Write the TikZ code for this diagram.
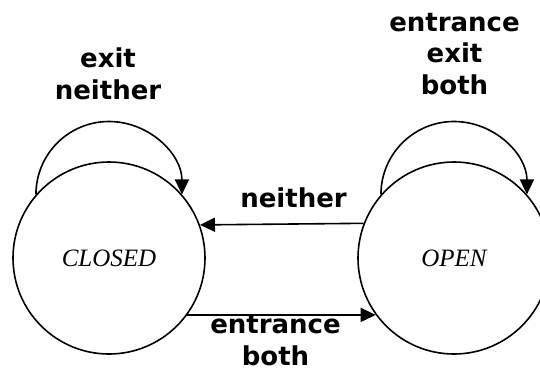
\documentclass[tikz,border=0pt]{standalone}
\usepackage{fontspec}
\setmainfont{Liberation Serif}
\newfontfamily\lblfont{DejaVu Sans}
\usetikzlibrary{arrows.meta}
\tikzset{
  state/.style={circle, draw, line width=1.6bp, minimum size=192bp, inner sep=0pt,
    font=\fontsize{25bp}{30bp}\selectfont\itshape},
  lbl/.style={anchor=base, align=center, inner sep=0pt,
    font=\lblfont\bfseries\fontsize{26bp}{31.5bp}\selectfont},
  arr/.style={line width=1.6bp, -{Triangle[length=15bp,width=14bp]}},
}
\begin{document}
\begin{tikzpicture}[x=1bp, y=-1bp]
  \useasboundingbox (0,0) rectangle (540,371);
  \clip (0,0) rectangle (540,371);

  % states
  \node[state] (closed) at (109,258) {CLOSED};
  \node[state] (open)   at (454,258) {OPEN};

  % self loops
  \draw[arr] (closed.139.5) arc[start angle=180, end angle=360, radius=73];
  \draw[arr] (open.139.5) arc[start angle=180, end angle=360, radius=73];

  % transitions between the states
  \draw[arr] (open.159.9) -- (closed.20.1);
  \draw[arr] (closed.-36.4) -- (open.216.4);

  % transition labels (anchored at the baseline of their last line)
  \node[lbl] (lclosed) at (108,99) {exit\\neither};
  \node[lbl] (lopen) at (454.5,94) {entrance\\exit\\both};
  \node[lbl] (lclose) at (293.5,207) {neither};
  \node[lbl] (lenter) at (275.5,365) {entrance\\both};
\end{tikzpicture}
\end{document}
